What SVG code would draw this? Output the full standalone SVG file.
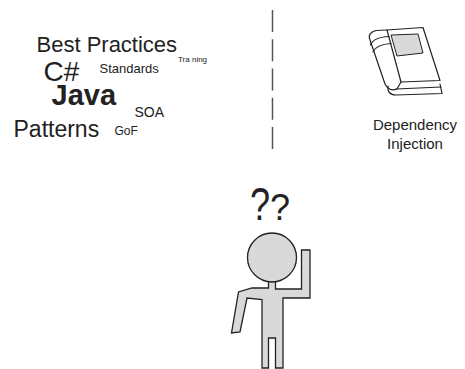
<svg xmlns="http://www.w3.org/2000/svg" width="465" height="369" viewBox="0 0 465 369">
  <style>
    .t { font-family: "Liberation Sans", Arial, sans-serif; fill: #222; }
    .b { font-weight: bold; }
    .ln { fill: none; stroke: #222; stroke-width: 1.2; stroke-linejoin: round; stroke-linecap: round; }
    .shape { fill: #d9d9d9; stroke: #222; stroke-width: 1.3; stroke-linejoin: miter; }
  </style>
  <rect width="465" height="369" fill="#ffffff"/>

  <!-- word cloud of topics -->
  <g id="topics">
    <text class="t" x="36.5" y="52" font-size="22">Best Practices</text>
    <text class="t" x="43.5" y="81" font-size="28">C#</text>
    <text class="t" x="99.5" y="73" font-size="13">Standards</text>
    <text class="t" x="178" y="62" font-size="8">Tra ning</text>
    <text class="t b" x="51.5" y="105" font-size="29">Java</text>
    <text class="t" x="134.5" y="117" font-size="14">SOA</text>
    <text class="t" x="13.5" y="137" font-size="23">Patterns</text>
    <text class="t" x="114.5" y="135" font-size="12">GoF</text>
  </g>

  <!-- divider -->
  <g id="connectors">
    <line x1="272.5" y1="10" x2="272.5" y2="149" stroke="#555" stroke-width="1.5" stroke-dasharray="22 7.25"/>
  </g>

  <!-- book icon -->
  <g id="book">
    <path class="ln" d="M388,86 Q387,95 396,95 L442,93.5 L440,84"/>
    <path class="ln" d="M396,89 L441,87"/>
    <path class="ln" fill="#fff" d="M387,30 L423,27.5 L440,80.5 L401,82 Z"/>
    <path class="ln" d="M387,30 L376,30.5 Q367,33 370,40 L385,84 Q389,92 397,89 L401,82"/>
    <path class="ln" d="M370.5,45 Q373,37.5 389,36.5"/>
    <path class="ln" d="M373,52 Q376,44.5 391,43.5"/>
    <path fill="#d9d9d9" stroke="#222" stroke-width="1" d="M391,35 L418,34 L423,53 L397,56 Z"/>
  </g>

  <g id="dependency-injection">
    <text class="t" x="415" y="130" font-size="15" text-anchor="middle">Dependency</text>
    <text class="t" x="415" y="149" font-size="15" text-anchor="middle">Injection</text>
  </g>

  <!-- puzzled person -->
  <g id="person">
    <text class="t" font-size="36" transform="translate(250,220) scale(1,1.3)">?</text>
    <text class="t" font-size="36" x="270" y="220">?</text>
    <path class="shape" d="M268.5,279 L268.5,288 L252,288 L238.5,292 L231.5,333 L240,332 L247,298 L262,299.5 L262,368 L268.5,368 L268.5,338 L275.5,338 L275.5,368 L283,368 L283,298 L310,298 L310,250 L301.5,250 L301.5,289 L275.5,289 L275.5,279 Z"/>
    <circle class="shape" cx="272" cy="257.5" r="24.5"/>
  </g>
</svg>
